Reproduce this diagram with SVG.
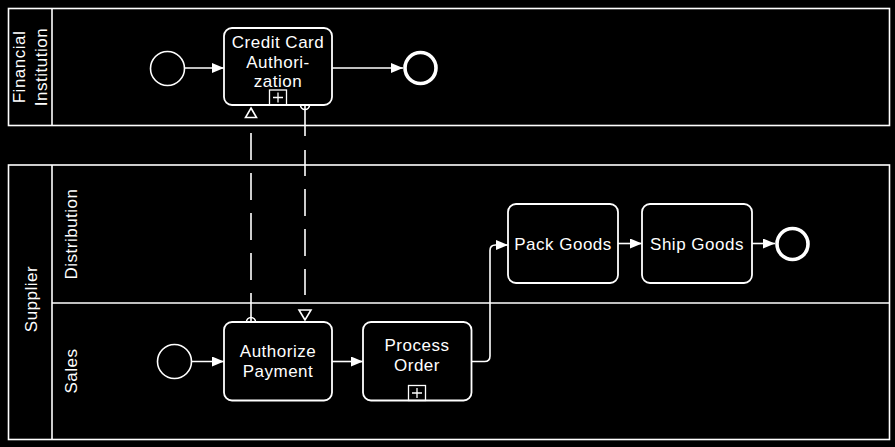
<svg xmlns="http://www.w3.org/2000/svg" width="895" height="447" viewBox="0 0 895 447">
<style>
.pool{fill:none;stroke:#fff;stroke-width:1.6}
.task{fill:#000;stroke:#fff;stroke-width:1.8}
.lbl{fill:#fff;font-family:"Liberation Sans",Arial,sans-serif;font-size:17px;letter-spacing:0.5px;text-anchor:middle}
.start{fill:#000;stroke:#fff;stroke-width:1.6}
.end{fill:#000;stroke:#fff;stroke-width:3.6}
.seq{fill:none;stroke:#fff;stroke-width:1.6}
.msg{fill:none;stroke:#fff;stroke-width:1.6}
.mk{fill:none;stroke:#fff;stroke-width:1.3}
</style>
<defs>
<marker id="arr" markerUnits="userSpaceOnUse" markerWidth="14" markerHeight="12" refX="12" refY="5" orient="auto">
<path d="M0,0 L12,5 L0,10 Z" fill="#fff"/>
</marker>
</defs>
<rect width="895" height="447" fill="#000"/>
<g id="pool-financial">
<rect class="pool" x="8.5" y="8.5" width="881" height="117"/>
<line class="pool" x1="52" y1="8.5" x2="52" y2="125.5"/>
<text class="lbl" transform="translate(25,67) rotate(-90)">Financial</text>
<text class="lbl" transform="translate(47,67) rotate(-90)">Institution</text>
</g>
<g id="pool-supplier">
<rect class="pool" x="8.5" y="165" width="881" height="274.5"/>
<line class="pool" x1="52" y1="165" x2="52" y2="439.5"/>
<line class="pool" x1="52" y1="303" x2="889.5" y2="303"/>
<text class="lbl" transform="translate(36.5,299) rotate(-90)">Supplier</text>
<text class="lbl" transform="translate(77,234) rotate(-90)">Distribution</text>
<text class="lbl" transform="translate(77,371) rotate(-90)">Sales</text>
</g>
<g id="connectors">
<line class="seq" x1="184.5" y1="68" x2="224" y2="68" marker-end="url(#arr)"/>
<line class="seq" x1="332" y1="68" x2="403" y2="68" marker-end="url(#arr)"/>
<line class="seq" x1="191.5" y1="361.5" x2="224" y2="361.5" marker-end="url(#arr)"/>
<line class="seq" x1="332" y1="361.5" x2="363" y2="361.5" marker-end="url(#arr)"/>
<path class="seq" d="M471,361.5 H484.5 Q490,361.5 490,356 V250.5 Q490,245 495.5,245 H508" marker-end="url(#arr)"/>
<line class="seq" x1="618" y1="243.5" x2="642" y2="243.5" marker-end="url(#arr)"/>
<line class="seq" x1="752" y1="243.5" x2="775" y2="243.5" marker-end="url(#arr)"/>
<path class="msg" d="M251,322 V118" stroke-dasharray="29 13 27 13 27 13 27 13 27 20"/>
<path class="msg" d="M305,105 V310" stroke-dasharray="31 14 26 13 27 13 27 13 26 20"/>
<circle class="msg" cx="251" cy="322" r="4.5" fill="#000"/>
<circle class="msg" cx="305" cy="105" r="4.5" fill="#000"/>
<path class="msg" d="M251,108 L256.5,117.5 L245.5,117.5 Z" fill="#000"/>
<path class="msg" d="M305,320 L299,310 L311,310 Z" fill="#000"/>
</g>
<g id="fi-start"><circle class="start" cx="167.5" cy="68.5" r="17"/></g>
<g id="credit-card-authorization">
<rect class="task" x="224" y="28" width="108" height="77" rx="8"/>
<text class="lbl" x="278" y="47.5">Credit Card</text>
<text class="lbl" x="278" y="67.5">Authori-</text>
<text class="lbl" x="278" y="87">zation</text>
<rect class="mk" x="269.5" y="90" width="17" height="15"/>
<path class="mk" d="M278,92.5 V102.5 M273,97.5 H283"/>
</g>
<g id="fi-end"><circle class="end" cx="420.5" cy="68" r="15.5"/></g>
<g id="sales-start"><circle class="start" cx="174.5" cy="361.5" r="17"/></g>
<g id="authorize-payment">
<rect class="task" x="224" y="322" width="108" height="78.5" rx="8"/>
<text class="lbl" x="278" y="357">Authorize</text>
<text class="lbl" x="278" y="376.5">Payment</text>
</g>
<g id="process-order">
<rect class="task" x="363" y="322" width="108.5" height="78.5" rx="8"/>
<text class="lbl" x="417" y="351">Process</text>
<text class="lbl" x="417" y="370.5">Order</text>
<rect class="mk" x="408.5" y="385.5" width="17" height="15"/>
<path class="mk" d="M417,388 V398 M412,393 H422"/>
</g>
<g id="pack-goods">
<rect class="task" x="508" y="204" width="110" height="79" rx="8"/>
<text class="lbl" x="563" y="249.5">Pack Goods</text>
</g>
<g id="ship-goods">
<rect class="task" x="642" y="204" width="110" height="79" rx="8"/>
<text class="lbl" x="697" y="249.5">Ship Goods</text>
</g>
<g id="distribution-end"><circle class="end" cx="792.5" cy="244" r="15.5"/></g>
</svg>
